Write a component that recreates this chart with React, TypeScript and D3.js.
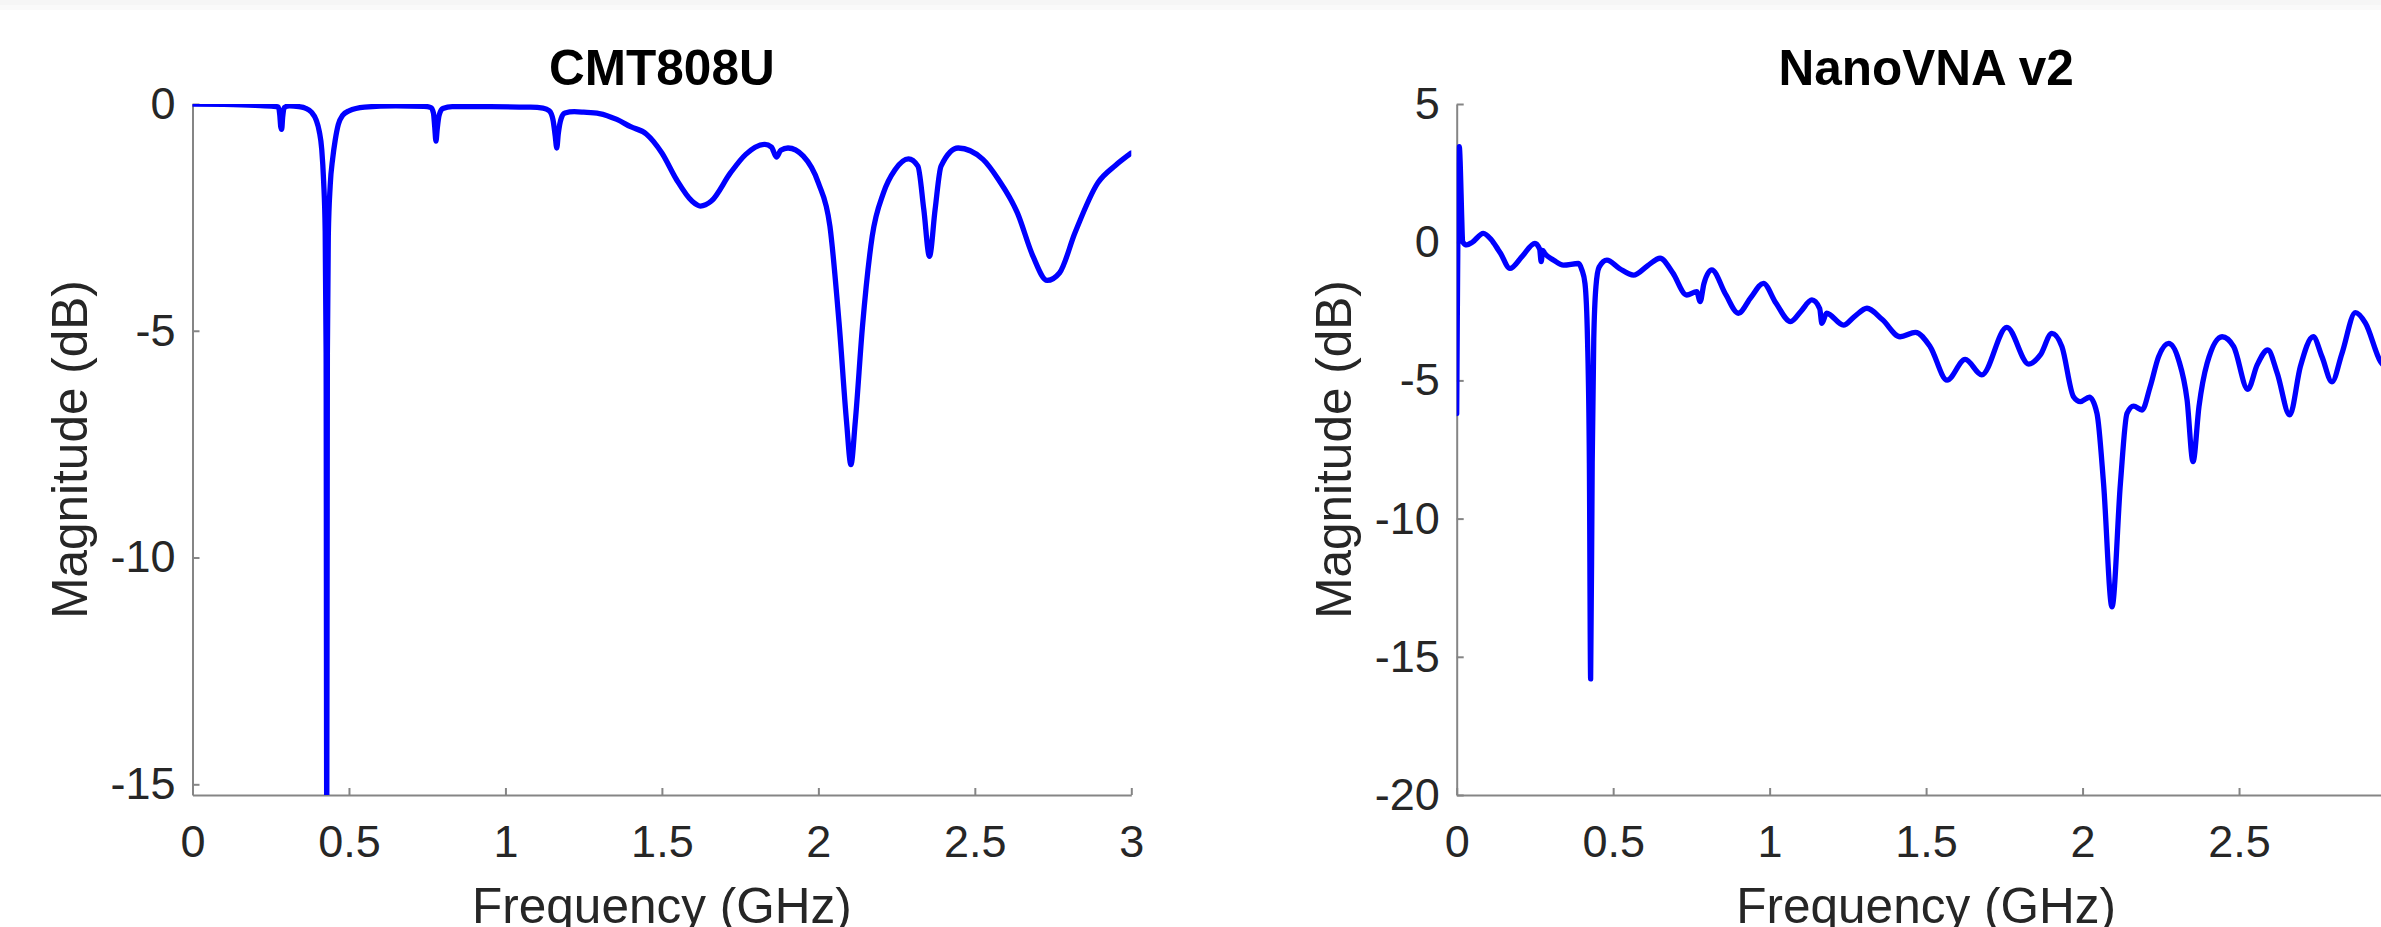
import React, { useEffect, useRef } from "react";
import * as d3 from "d3";

// CMT808U sweep, frequency in GHz, magnitude in dB
const cmtFreq = [
  0, 0.1, 0.2, 0.26, 0.275, 0.279, 0.282, 0.285, 0.288, 0.293, 0.31, 0.34,
  0.36, 0.38, 0.395, 0.405, 0.413, 0.419, 0.424, 0.427, 0.429, 0.431, 0.434,
  0.44, 0.448, 0.456, 0.466, 0.48, 0.5, 0.55, 0.65, 0.74, 0.762, 0.77, 0.774,
  0.778, 0.782, 0.788, 0.8, 0.83, 0.95, 1.08, 1.12, 1.14, 1.152, 1.159, 1.164,
  1.169, 1.178, 1.19, 1.22, 1.25, 1.3, 1.356, 1.4, 1.45, 1.5, 1.547, 1.596,
  1.623, 1.658, 1.719, 1.768, 1.829, 1.85, 1.866, 1.88, 1.903, 1.952, 2.0,
  2.037, 2.067, 2.09, 2.104, 2.118, 2.141, 2.172, 2.208, 2.245, 2.288, 2.318,
  2.337, 2.355, 2.373, 2.392, 2.447, 2.526, 2.576, 2.636, 2.686, 2.731, 2.771,
  2.82, 2.893, 2.95, 3.0,
];
const cmtMag = [
  0, -0.01, -0.03, -0.05, -0.07, -0.25, -0.5, -0.56, -0.3, -0.08, -0.04, -0.06,
  -0.09, -0.18, -0.35, -0.6, -1.0, -1.7, -2.8, -5.5, -16, -5.5, -2.9, -1.8,
  -1.2, -0.8, -0.45, -0.25, -0.15, -0.07, -0.04, -0.05, -0.08, -0.2, -0.5,
  -0.82, -0.55, -0.25, -0.1, -0.06, -0.06, -0.07, -0.09, -0.15, -0.35, -0.7,
  -0.97, -0.65, -0.32, -0.2, -0.17, -0.18, -0.21, -0.34, -0.5, -0.66, -1.08,
  -1.67, -2.14, -2.25, -2.14, -1.52, -1.11, -0.89, -0.95, -1.17, -1.02, -0.97,
  -1.15, -1.74, -2.7, -4.9, -7.0, -7.95, -7.0, -4.9, -2.92, -1.96, -1.45,
  -1.21, -1.37, -2.33, -3.36, -2.33, -1.37, -0.97, -1.22, -1.67, -2.4, -3.36,
  -3.89, -3.72, -2.84, -1.74, -1.35, -1.08,
];

// NanoVNA v2 sweep
const nanoFreq = [
  0, 0.008, 0.02, 0.032, 0.05, 0.085, 0.11, 0.133, 0.14, 0.17, 0.21, 0.25,
  0.265, 0.27, 0.275, 0.281, 0.31, 0.341, 0.389, 0.4, 0.41, 0.418, 0.424,
  0.428, 0.433, 0.438, 0.445, 0.455, 0.48, 0.52, 0.565, 0.61, 0.65, 0.69,
  0.735, 0.767, 0.778, 0.79, 0.815, 0.86, 0.9, 0.94, 0.98, 1.02, 1.067, 1.1,
  1.135, 1.16, 1.167, 1.182, 1.236, 1.27, 1.311, 1.36, 1.417, 1.466, 1.513,
  1.567, 1.625, 1.678, 1.758, 1.828, 1.865, 1.902, 1.934, 1.971, 1.993, 2.022,
  2.046, 2.067, 2.094, 2.121, 2.142, 2.163, 2.19, 2.216, 2.243, 2.275, 2.307,
  2.334, 2.353, 2.372, 2.398, 2.446, 2.483, 2.528, 2.558, 2.592, 2.622, 2.662,
  2.696, 2.737, 2.765, 2.797, 2.829, 2.872, 2.904, 2.952, 2.975,
];
const nanoMag = [
  -6.2, 3.46, 0.0, -0.1, 0.0, 0.32, 0.1, -0.28, -0.4, -0.95, -0.5, -0.04,
  -0.25, -0.7, -0.3, -0.4, -0.65, -0.83, -0.77, -1.0, -1.5, -3.5, -8, -15.8,
  -8, -3.5, -1.6, -0.9, -0.65, -0.95, -1.19, -0.85, -0.58, -1.1, -1.91, -1.79,
  -2.15, -1.5, -1.0, -1.9, -2.57, -2.0, -1.49, -2.2, -2.87, -2.5, -2.09, -2.4,
  -2.94, -2.57, -3.0, -2.7, -2.39, -2.8, -3.42, -3.26, -3.78, -4.99, -4.24,
  -4.8, -3.08, -4.41, -4.08, -3.3, -3.78, -5.59, -5.77, -5.61, -6.19, -8.72,
  -13.19, -8.72, -6.19, -5.93, -6.07, -5.23, -4.14, -3.66, -4.26, -5.71, -7.94,
  -5.95, -4.38, -3.42, -3.78, -5.32, -4.44, -3.9, -4.74, -6.25, -4.5, -3.42,
  -4.14, -5.05, -4.02, -2.55, -2.93, -4.32, -4.6,
];

const freqTicks = [0, 0.5, 1, 1.5, 2, 2.5, 3];
const cmtTicks = [-15, -10, -5, 0];
const nanoTicks = [-20, -15, -10, -5, 0, 5];

const App = () => {
  const svgRef = useRef(null);

  useEffect(() => {
    document.body.style.margin = "0";

    const width = 2381;
    const height = 927;
    const plotTop = 104;
    const plotBottom = 795;
    const plotW = 938.8;
    const font = "'Liberation Sans', Arial, Helvetica, sans-serif";
    const axisColor = "#858585";
    const textColor = "#262626";

    const svg = d3
      .select(svgRef.current)
      .attr("width", width)
      .attr("height", height)
      .attr("viewBox", [0, 0, width, height])
      .style("display", "block")
      .style("background", "#fff");

    svg.selectAll("*").remove();

    // faint strip along the top edge
    svg.append("rect").attr("x", 0).attr("y", 0).attr("width", width).attr("height", 5).attr("fill", "#f6f6f6");
    svg.append("rect").attr("x", 0).attr("y", 5).attr("width", width).attr("height", 5).attr("fill", "#fafafa");

    const panels = [
      { id: "cmt", title: "CMT808U", freq: cmtFreq, mag: cmtMag, yDomain: [-15.236, 0], yTicks: cmtTicks, left: 192.5 },
      { id: "nano", title: "NanoVNA v2", freq: nanoFreq, mag: nanoMag, yDomain: [-20, 5], yTicks: nanoTicks, left: 1456.7 },
    ];

    panels.forEach((p) => {
      const x = d3.scaleLinear().domain([0, 3]).range([p.left, p.left + plotW]);
      const y = d3.scaleLinear().domain(p.yDomain).range([plotBottom, plotTop]);
      const g = svg.append("g");

      g.append("clipPath")
        .attr("id", `clip-${p.id}`)
        .append("rect")
        .attr("x", p.left)
        .attr("y", plotTop)
        .attr("width", plotW)
        .attr("height", plotBottom - plotTop);

      // only ticks whose label fits inside the picture (right panel runs off the edge)
      const xTicks = freqTicks.filter((t) => x(t) + 20 < width);

      const gx = g
        .append("g")
        .attr("transform", `translate(0,${plotBottom})`)
        .call(
          d3
            .axisBottom(x)
            .tickValues(xTicks)
            .tickFormat((d) => String(d))
            .tickSizeInner(-7)
            .tickSizeOuter(0)
            .tickPadding(30)
        );

      const gy = g
        .append("g")
        .attr("transform", `translate(${p.left},0)`)
        .call(
          d3
            .axisLeft(y)
            .tickValues(p.yTicks)
            .tickFormat((d) => String(d))
            .tickSizeInner(-7)
            .tickSizeOuter(0)
            .tickPadding(17)
        );

      [gx, gy].forEach((a) => {
        a.attr("font-family", font).attr("font-size", 45);
        a.selectAll(".domain").attr("stroke", axisColor).attr("stroke-width", 2);
        a.selectAll(".tick line").attr("stroke", axisColor).attr("stroke-width", 2);
        a.selectAll(".tick text").attr("fill", textColor);
      });

      const line = d3
        .line()
        .x((d, i) => x(p.freq[i]))
        .y((d) => y(d))
        .curve(d3.curveMonotoneX);

      g.append("path")
        .attr("clip-path", `url(#clip-${p.id})`)
        .attr("d", line(p.mag))
        .attr("fill", "none")
        .attr("stroke", "#0000ff")
        .attr("stroke-width", 5.3)
        .attr("stroke-linejoin", "round")
        .attr("stroke-linecap", "round");

      const cx = p.left + plotW / 2;

      g.append("text")
        .attr("x", cx)
        .attr("y", 85)
        .attr("text-anchor", "middle")
        .attr("font-family", font)
        .attr("font-weight", "bold")
        .attr("font-size", 49.5)
        .attr("fill", "#000")
        .text(p.title);

      g.append("text")
        .attr("x", cx)
        .attr("y", 923)
        .attr("text-anchor", "middle")
        .attr("font-family", font)
        .attr("font-size", 49.5)
        .attr("fill", textColor)
        .text("Frequency (GHz)");

      g.append("text")
        .attr("transform", `translate(${p.left - 105.5},${(plotTop + plotBottom) / 2}) rotate(-90)`)
        .attr("text-anchor", "middle")
        .attr("font-family", font)
        .attr("font-size", 49.5)
        .attr("fill", textColor)
        .text("Magnitude (dB)");
    });
  }, []);

  return <svg ref={svgRef} />;
};

export default App;
